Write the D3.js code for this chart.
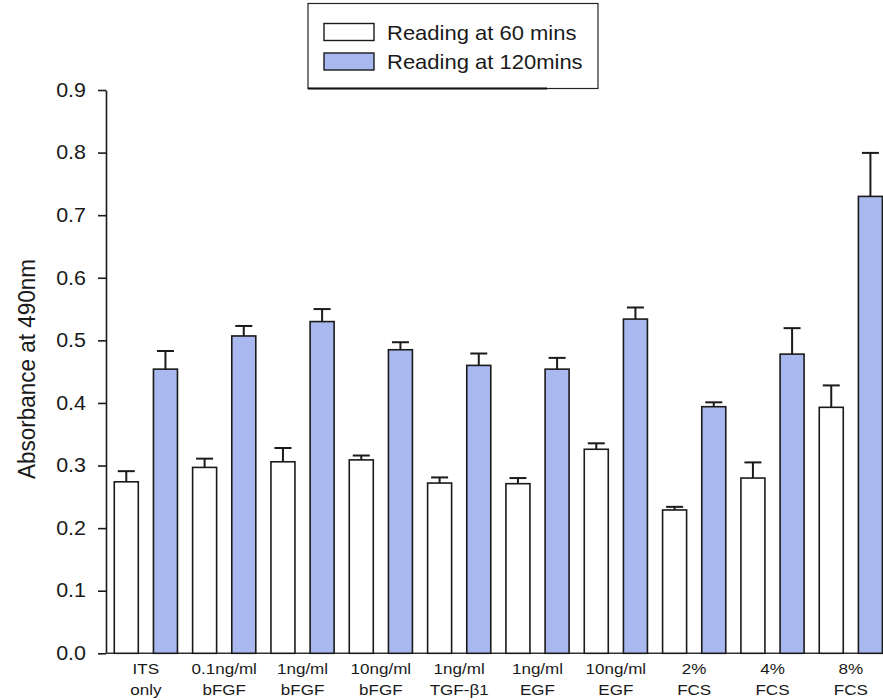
<!DOCTYPE html>
<html>
<head>
<meta charset="utf-8">
<script src="https://cdn.jsdelivr.net/npm/d3@7"></script>
<style>
  html, body { margin: 0; padding: 0; background: #fff; }
  svg { display: block; }
  text { font-family: "Liberation Sans", Arial, Helvetica, sans-serif; fill: #1a1a1a; }
</style>
</head>
<body>
<svg id="chart" width="883" height="700"></svg>
<script>
// Treatment groups (two-line tick labels)
const labelLine1 = ["ITS", "0.1ng/ml", "1ng/ml", "10ng/ml", "1ng/ml", "1ng/ml", "10ng/ml", "2%", "4%", "8%"];
const labelLine2 = ["only", "bFGF", "bFGF", "bFGF", "TGF-\u03B21", "EGF", "EGF", "FCS", "FCS", "FCS"];

// Mean absorbance at 490nm and upper error (SEM)
const reading60 = [0.274, 0.297, 0.306, 0.309, 0.272, 0.271, 0.326, 0.229, 0.280, 0.393];
const reading60Err = [0.017, 0.014, 0.022, 0.007, 0.009, 0.009, 0.0095, 0.005, 0.025, 0.035];
const reading120 = [0.454, 0.507, 0.530, 0.485, 0.460, 0.454, 0.534, 0.394, 0.478, 0.730];
const reading120Err = [0.029, 0.016, 0.020, 0.012, 0.019, 0.018, 0.0185, 0.007, 0.0415, 0.0695];

const seriesNames = ["Reading at 60 mins", "Reading at 120mins"];
const yTicks = [0, 0.1, 0.2, 0.3, 0.4, 0.5, 0.6, 0.7, 0.8, 0.9];

const blue = "#a9b8ee";
const fills = ["#ffffff", blue];
const stretch = 1.1; // slightly wide lettering

const groups = labelLine1.map((d, i) => ({
  key: i,
  values: [
    { series: 0, value: reading60[i], err: reading60Err[i] },
    { series: 1, value: reading120[i], err: reading120Err[i] }
  ]
}));

const svg = d3.select("#chart");

const axisX = 106;
const x0 = d3.scaleBand().domain(groups.map(g => g.key)).range([axisX + 0.7, axisX + 784]).paddingInner(0).paddingOuter(0);
const x1 = d3.scaleBand().domain([0, 1]).range([0, x0.bandwidth()]).paddingInner(0.387).paddingOuter(0.1935);
const y = d3.scaleLinear().domain([0, 0.9]).range([653.3, 90]);

// Y axis
const yAxis = svg.append("g")
  .attr("transform", `translate(${axisX},0)`)
  .call(d3.axisLeft(y).tickValues(yTicks).tickFormat(d3.format(".1f")).tickSize(8).tickSizeOuter(0));
yAxis.select(".domain").attr("stroke", "#1a1a1a").attr("stroke-width", 1.6);
yAxis.selectAll(".tick line").attr("stroke", "#1a1a1a").attr("stroke-width", 1.6);
yAxis.selectAll(".tick text")
  .attr("x", null)
  .attr("transform", `translate(-20,0) scale(${stretch},1)`)
  .attr("font-size", "19.5px")
  .attr("font-family", "'Liberation Sans', Arial, sans-serif")
  .attr("fill", "#1a1a1a");

// X baseline
svg.append("line")
  .attr("x1", axisX).attr("x2", 883)
  .attr("y1", y(0)).attr("y2", y(0))
  .attr("stroke", "#333").attr("stroke-width", 1.6);

// Bars
const gGroups = svg.append("g").selectAll("g")
  .data(groups).join("g")
  .attr("transform", d => `translate(${x0(d.key)},0)`);

gGroups.selectAll("rect")
  .data(d => d.values).join("rect")
  .attr("x", d => x1(d.series))
  .attr("y", d => y(d.value))
  .attr("width", x1.bandwidth())
  .attr("height", d => y(0) - y(d.value))
  .attr("fill", d => fills[d.series])
  .attr("stroke", "#1a1a1a")
  .attr("stroke-width", 1.6);

// Error bars (upper only)
const capW = 17;
const eb = gGroups.selectAll("g.err")
  .data(d => d.values).join("g").attr("class", "err");
eb.append("line")
  .attr("x1", d => x1(d.series) + x1.bandwidth() / 2)
  .attr("x2", d => x1(d.series) + x1.bandwidth() / 2)
  .attr("y1", d => y(d.value))
  .attr("y2", d => y(d.value + d.err))
  .attr("stroke", "#1a1a1a").attr("stroke-width", 2);
eb.append("line")
  .attr("x1", d => x1(d.series) + x1.bandwidth() / 2 - capW / 2)
  .attr("x2", d => x1(d.series) + x1.bandwidth() / 2 + capW / 2)
  .attr("y1", d => y(d.value + d.err))
  .attr("y2", d => y(d.value + d.err))
  .attr("stroke", "#1a1a1a").attr("stroke-width", 2);

// Category labels
const lab = svg.append("g").selectAll("g")
  .data(groups).join("g")
  .attr("transform", d => `translate(${x0(d.key) + x0.bandwidth() / 2},0)`);
lab.append("text")
  .attr("transform", `translate(0,673.5) scale(${stretch},1)`)
  .attr("text-anchor", "middle")
  .attr("font-size", "15.5px")
  .text(d => labelLine1[d.key]);
lab.append("text")
  .attr("transform", `translate(0,695) scale(${stretch},1)`)
  .attr("text-anchor", "middle")
  .attr("font-size", "15.5px")
  .text(d => labelLine2[d.key]);

// Y axis title
svg.append("text")
  .attr("transform", `translate(35,369) scale(${stretch},1) rotate(-90)`)
  .attr("text-anchor", "middle")
  .attr("font-size", "22.5px")
  .text("Absorbance at 490nm");

// Legend
const legend = svg.append("g");
legend.append("rect")
  .attr("x", 308).attr("y", 3.5).attr("width", 290).attr("height", 85)
  .attr("fill", "#fff").attr("stroke", "#222").attr("stroke-width", 1.2);
legend.append("line")
  .attr("x1", 308).attr("x2", 547).attr("y1", 88.5).attr("y2", 88.5)
  .attr("stroke", "#111").attr("stroke-width", 2.2);
const legItems = legend.selectAll("g.item")
  .data(seriesNames).join("g").attr("class", "item")
  .attr("transform", (d, i) => `translate(0,${i * 29.5})`);
legItems.append("rect")
  .attr("x", 324).attr("y", 23.5).attr("width", 50).attr("height", 17)
  .attr("fill", (d, i) => fills[i])
  .attr("stroke", "#1a1a1a").attr("stroke-width", 1.4);
legItems.append("text")
  .attr("transform", `translate(387,39.5) scale(${stretch},1)`)
  .attr("font-size", "20px")
  .text(d => d);
</script>
</body>
</html>
